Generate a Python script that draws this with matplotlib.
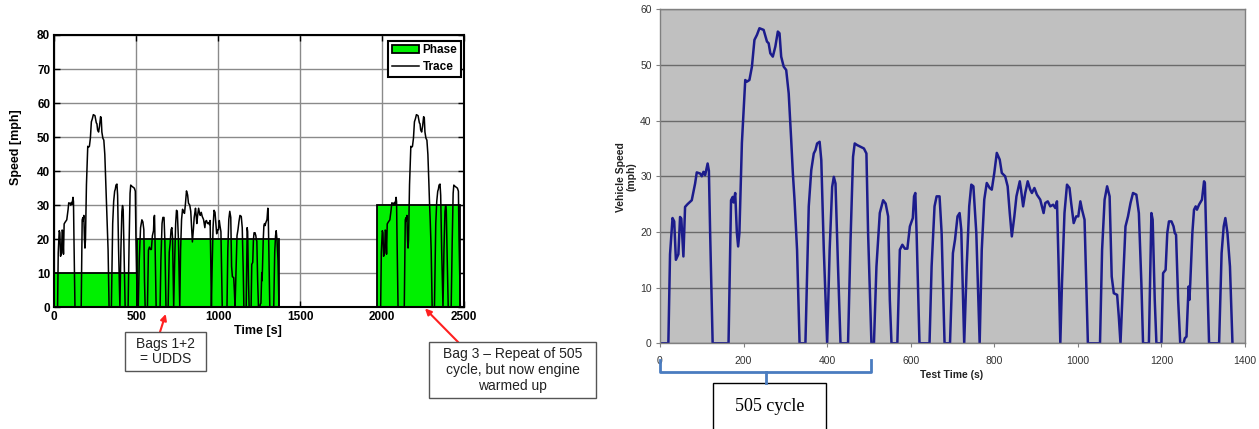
import matplotlib
matplotlib.use('Agg')
import matplotlib.pyplot as plt
import numpy as np
from matplotlib.patches import Rectangle
from matplotlib.lines import Line2D
import matplotlib.transforms as mtransforms

plt.rcParams['font.family'] = ['Liberation Sans', 'DejaVu Sans']

# ---- UDDS speed trace ----
time_s = [0, 20, 24, 30, 34, 38, 44, 48, 51, 56, 60, 66, 76, 84, 88, 96, 100, 104, 108, 114,
          117, 120, 126, 164, 170, 174, 176, 180, 184, 187, 190, 196, 204, 208, 214, 220, 226,
          232, 238, 248, 256, 260, 264, 270, 276, 282, 286, 290, 296, 302, 308, 314, 318, 322,
          328, 334, 348, 356, 362, 368, 372, 376, 382, 386, 392, 400, 406, 412, 416, 420, 426,
          432, 450, 456, 462, 466, 472, 480, 488, 494, 498, 506, 512, 518, 526, 534, 540, 546,
          550, 554, 568, 574, 580, 586, 592, 598, 605, 608, 611, 614, 621, 645, 650, 657, 662,
          669, 674, 681, 694, 701, 706, 712, 717, 721, 728, 734, 740, 745, 750, 757, 765, 770,
          776, 782, 789, 794, 800, 806, 813, 818, 826, 832, 837, 842, 848, 853, 861, 864, 869,
          874, 880, 886, 890, 896, 902, 910, 918, 922, 928, 934, 941, 946, 950, 954, 958, 962,
          968, 974, 980, 984, 990, 996, 1001, 1006, 1010, 1016, 1024, 1053, 1058, 1064, 1070,
          1076, 1081, 1086, 1094, 1098, 1102, 1108, 1114, 1120, 1126, 1132, 1140, 1146, 1152,
          1156, 1170, 1176, 1179, 1184, 1188, 1200, 1204, 1210, 1214, 1218, 1224, 1229, 1232,
          1235, 1240, 1245, 1253, 1256, 1260, 1265, 1267, 1269, 1274, 1278, 1282, 1285, 1290,
          1297, 1302, 1304, 1310, 1314, 1338, 1344, 1349, 1353, 1358, 1364, 1370]
speed_mph = [0, 0, 16, 22.5, 21.9, 15, 16, 22.7, 22.4, 15.6, 24.5, 25, 25.7, 28.7, 30.7, 30.5, 30,
             30.8, 30.2, 32.3, 31, 19.8, 0, 0, 25.7, 26.3, 25.3, 27, 19.8, 17.4, 19.8, 36, 47.3,
             47, 47.3, 49.7, 54.5, 55.4, 56.6, 56.3, 54.2, 53.9, 52.1, 51.5, 53.3, 56, 55.7, 51.5,
             49.7, 49.1, 44.9, 36.5, 30.5, 25.7, 16.8, 0, 0, 24.6, 31.1, 34.1, 34.7, 35.9, 36.2,
             32.9, 16.8, 0, 16.8, 28.1, 29.9, 28.7, 13.8, 0, 0, 18.6, 33.5, 35.9, 35.6, 35.3, 35,
             34.1, 19.8, 0, 0, 13.8, 23.4, 25.7, 25.1, 22.8, 7.8, 0, 0, 16.8, 17.7, 17, 17, 21,
             22.5, 26.4, 27, 20, 0, 0, 13.8, 24.6, 26.4, 26.4, 19.8, 0, 0, 16.2, 18.6, 22.8, 23.4,
             20.4, 0, 13.8, 24.6, 28.5, 28.2, 19.8, 0, 16.8, 25.8, 28.8, 27.9, 27.6, 30.6, 34.2,
             33, 30.6, 30, 28.2, 23.4, 19.2, 22.8, 26.4, 29.1, 27.6, 24.6, 27, 29.1, 27.6, 27,
             27.9, 26.7, 25.8, 23.4, 25.2, 25.5, 24.6, 24.9, 24.3, 25.5, 13.8, 0, 10.8, 23.4, 28.5,
             27.9, 25.2, 21.6, 22.8, 22.8, 25.5, 24, 22.2, 0, 0, 16.8, 25.8, 28.2, 26.4, 12, 9,
             8.7, 4.8, 0, 10.8, 21, 22.8, 25.2, 27, 26.7, 23.4, 10.8, 0, 0, 23.4, 22.2, 7.8, 0, 0,
             12.6, 13.2, 19.8, 21.9, 21.9, 21, 19.8, 19.5, 7.8, 0, 0, 0.9, 1.2, 10.2, 7.8, 10.8,
             19.8, 24, 24.6, 24, 24.9, 25.8, 29.1, 28.8, 10.8, 0, 0, 16.2, 21, 22.5, 19.8, 13.8, 0]

# ---- Test phases (bags) for the left chart ----
phase_start = [0, 505, 1970]
phase_end = [505, 1370, 2475]
phase_level = [10, 20, 30]
hot_start_offset = 1970     # start of repeated 505 cycle
cycle_505_len = 505

W, H = 1259, 429
fig = plt.figure(figsize=(W / 100, H / 100), dpi=100)


def fx(x):
    return x / W


def fy(y):
    return 1 - y / H


t = np.array(time_s, dtype=float)
v = np.array(speed_mph, dtype=float)

# ================= Left chart =================
ax1 = fig.add_axes([fx(54.3), fy(307.3), fx(464.3) - fx(54.3), fy(35) - fy(307.3)])
ax1.set_axisbelow(True)
ax1.grid(True, color='#8a8a8a', lw=1)
widths = [e - s for s, e in zip(phase_start, phase_end)]
bars = ax1.bar(phase_start, phase_level, width=widths, align='edge', color='#00f000',
               edgecolor='black', linewidth=1.3, label='Phase', zorder=2)
trace_line, = ax1.plot(t, v, color='black', lw=1.1, zorder=3, label='Trace')
m = t <= cycle_505_len + 1
ax1.plot(t[m] + hot_start_offset, v[m], color='black', lw=1.1, zorder=3)
ax1.set_xlim(0, 2500)
ax1.set_ylim(0, 80)
ax1.set_xticks(range(0, 2501, 500))
ax1.set_yticks(range(0, 81, 10))
ax1.tick_params(direction='in', top=True, right=True, length=4, width=1,
                labelsize=8.5, pad=3)
for lab in ax1.get_xticklabels() + ax1.get_yticklabels():
    lab.set_fontweight('bold')
for sp in ax1.spines.values():
    sp.set_linewidth(1.5)
ax1.set_xlabel('Time [s]', fontsize=9, fontweight='bold')
ax1.xaxis.set_label_coords(0.496, -0.066)
ax1.set_ylabel('Speed [mph]', fontsize=9, fontweight='bold')
ax1.yaxis.set_label_coords(-0.079, 0.587)
leg = ax1.legend([bars, trace_line], ['Phase', 'Trace'],
                 loc='upper right', bbox_to_anchor=(1 - 3.6 / 410, 1 - 5.7 / 272.3),
                 borderaxespad=0, prop={'size': 8.5, 'weight': 'bold'},
                 fancybox=False, edgecolor='black', framealpha=1,
                 handlelength=2.3, handletextpad=0.3, labelspacing=0.4,
                 borderpad=0.3)
leg.get_frame().set_linewidth(1.5)

# annotations (left)
fig.patches.append(Rectangle((fx(125), fy(371.3)), fx(205.7) - fx(125), fy(332) - fy(371.3),
                             transform=fig.transFigure, facecolor='white',
                             edgecolor='#555555', lw=1))
fig.text(fx(165.3), fy(351.6), 'Bags 1+2\n= UDDS', ha='center', va='center',
         fontsize=10, color='#222222', linespacing=1.15)
fig.patches.append(Rectangle((fx(429.3), fy(397.7)), fx(596) - fx(429.3), fy(342.3) - fy(397.7),
                             transform=fig.transFigure, facecolor='white',
                             edgecolor='#555555', lw=1))
fig.text(fx(512.7), fy(370), 'Bag 3 \u2013 Repeat of 505\ncycle, but now engine\nwarmed up',
         ha='center', va='center', fontsize=10, color='#222222', linespacing=1.15)
ax1.annotate('', xy=(fx(165.7), fy(314)), xycoords='figure fraction',
             xytext=(fx(160), fy(332)), textcoords='figure fraction',
             arrowprops=dict(arrowstyle='-|>', color='#ff2020', lw=1.5, mutation_scale=9,
                             shrinkA=0, shrinkB=0), annotation_clip=False)
ax1.annotate('', xy=(fx(425), fy(308.5)), xycoords='figure fraction',
             xytext=(fx(458.3), fy(342.3)), textcoords='figure fraction',
             arrowprops=dict(arrowstyle='-|>', color='#ff2020', lw=1.5, mutation_scale=9,
                             shrinkA=0, shrinkB=0), annotation_clip=False)

# ================= Right chart =================
ax2 = fig.add_axes([fx(660), fy(343.3), fx(1245) - fx(660), fy(9.3) - fy(343.3)])
ax2.set_facecolor('#c0c0c0')
ax2.set_axisbelow(True)
ax2.yaxis.grid(True, color='#6a6a6a', lw=1)
ax2.plot(t, v, color='#1c1c8c', lw=1.8)
ax2.set_xlim(0, 1400)
ax2.set_ylim(0, 60)
ax2.set_xticks(range(0, 1401, 200))
ax2.set_yticks(range(0, 61, 10))
for sp in ax2.spines.values():
    sp.set_color('#808080')
    sp.set_linewidth(1)
ax2.tick_params(direction='out', length=3, color='#808080', labelsize=7.5,
                labelcolor='#333333')
ax2.tick_params(axis='x', pad=6)
ax2.tick_params(axis='y', pad=3)
ax2.set_xlabel('Test Time (s)', fontsize=7.5, fontweight='bold', color='#222222')
ax2.xaxis.set_label_coords(0.499, -0.08)
ax2.set_ylabel('Vehicle Speed\n(mph)', fontsize=7.5, fontweight='bold', color='#222222',
               linespacing=1.1)
ax2.yaxis.set_label_coords(-0.040, 0.499)

# 505 cycle bracket
trans = mtransforms.blended_transform_factory(ax2.transData, ax2.transAxes)
bc = '#4a7cc0'
ax2.add_line(Line2D([0, 0, cycle_505_len, cycle_505_len], [-0.05, -0.085, -0.085, -0.05],
                    transform=trans, color=bc, lw=2, clip_on=False))
ax2.add_line(Line2D([cycle_505_len / 2, cycle_505_len / 2], [-0.085, -0.12],
                    transform=trans, color=bc, lw=2, clip_on=False))
ax2.add_patch(Rectangle((128, -0.35), 270, 0.23, transform=trans, facecolor='white',
                        edgecolor='black', lw=1, clip_on=False))
ax2.text(263, -0.19, '505 cycle', transform=trans, ha='center', va='center',
         fontsize=13, family='Liberation Serif', color='black')

fig.savefig('out.png', dpi=100)
